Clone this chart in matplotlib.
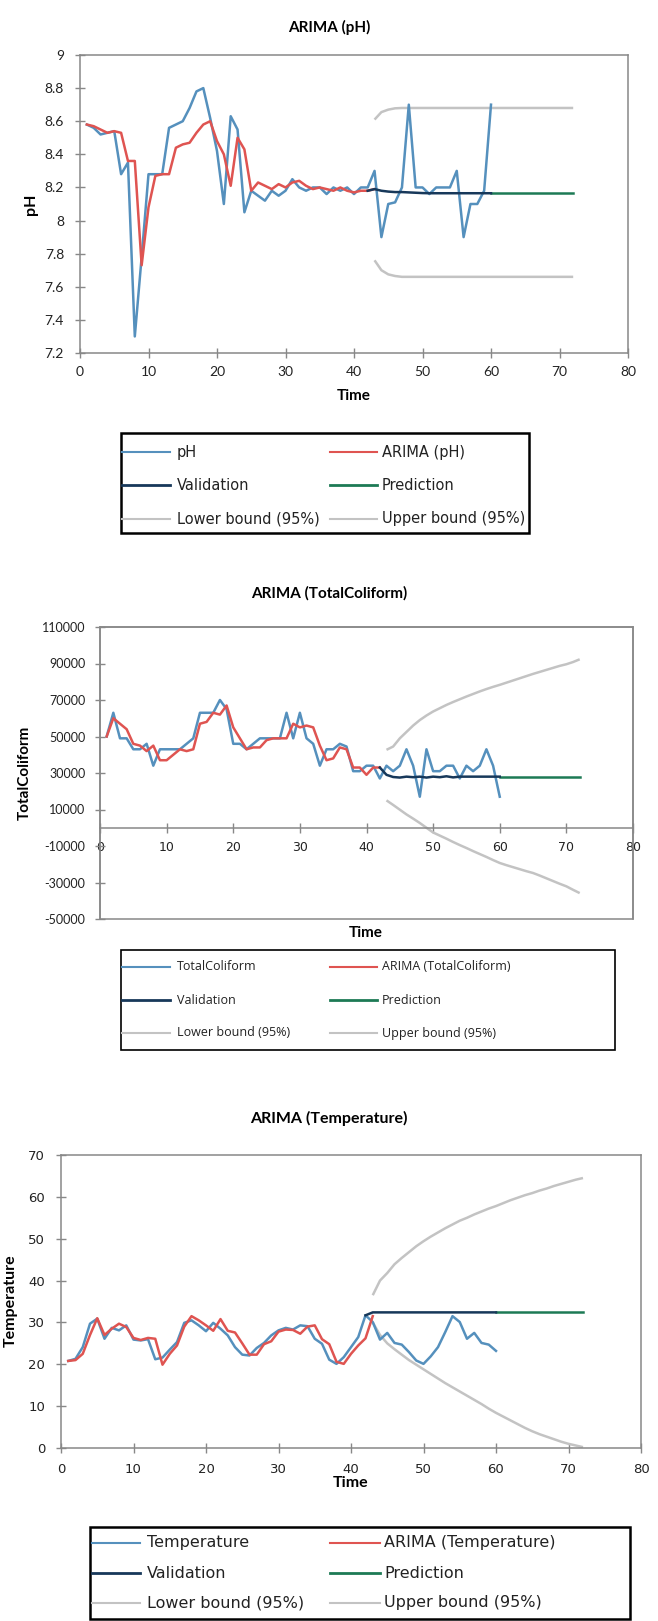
import matplotlib
matplotlib.use('Agg')
import matplotlib.pyplot as plt
from matplotlib.lines import Line2D
from matplotlib.patches import Rectangle
from matplotlib.ticker import FuncFormatter

W, H = 658, 1621
plt.rcParams['axes.unicode_minus'] = False

BLUE = '#5590bd'
RED = '#df5451'
NAVY = '#17385a'
GREEN = '#1d7a55'
GREY = '#c3c3c3'
AXC = '#888888'

# ---------------- pH ----------------
t_ph = list(range(1, 61))
ph = [8.58, 8.56, 8.52, 8.53, 8.54, 8.28, 8.35, 7.30, 7.78, 8.28,
      8.28, 8.28, 8.56, 8.58, 8.60, 8.68, 8.78, 8.80, 8.62, 8.42,
      8.10, 8.63, 8.55, 8.05, 8.18, 8.15, 8.12, 8.18, 8.15, 8.18,
      8.25, 8.20, 8.18, 8.20, 8.20, 8.16, 8.20, 8.18, 8.20, 8.16,
      8.20, 8.20, 8.30, 7.90, 8.10, 8.11, 8.20, 8.70, 8.20, 8.20,
      8.16, 8.20, 8.20, 8.20, 8.30, 7.90, 8.10, 8.10, 8.18, 8.70]
t_ph_fit = list(range(1, 44))
ph_fit = [8.58, 8.57, 8.55, 8.53, 8.54, 8.53, 8.36, 8.36, 7.73, 8.08,
          8.27, 8.28, 8.28, 8.44, 8.46, 8.47, 8.53, 8.58, 8.60, 8.48,
          8.40, 8.21, 8.50, 8.43, 8.18, 8.23, 8.21, 8.19, 8.22, 8.20,
          8.23, 8.24, 8.21, 8.19, 8.20, 8.19, 8.18, 8.20, 8.18, 8.17,
          8.18, 8.18, 8.19]
t_ph_val = list(range(42, 61))
ph_val = [8.18, 8.19, 8.18, 8.175, 8.172, 8.172, 8.17, 8.168, 8.166, 8.165,
          8.165, 8.165, 8.165, 8.165, 8.165, 8.165, 8.165, 8.165, 8.165]
t_ph_pred = list(range(60, 73))
ph_pred = [8.165] * 13
t_ph_bnd = list(range(43, 73))
ph_upper = [8.61, 8.655, 8.67, 8.678] + [8.68] * 26
ph_lower = [7.76, 7.70, 7.675, 7.665] + [7.66] * 26

# ---------------- TotalColiform ----------------
t_tc = list(range(1, 61))
tc = [50000, 63000, 49000, 49000, 43000, 43000, 46000, 34000, 43000, 43000,
      43000, 43000, 46000, 49000, 63000, 63000, 63000, 70000, 65000, 46000,
      46000, 43000, 46000, 49000, 49000, 49000, 49000, 63000, 49000, 63000,
      49000, 46000, 34000, 43000, 43000, 46000, 44500, 31000, 31000, 34000,
      34000, 27000, 34000, 31000, 34000, 43000, 34000, 17000, 43000, 31000,
      31000, 34000, 34000, 27000, 34000, 31000, 34000, 43000, 34000, 17000]
t_tc_fit = list(range(1, 43))
tc_fit = [50000, 60000, 57000, 54000, 46000, 45000, 42000, 45000, 37000, 37000,
          40000, 43000, 42000, 43000, 57000, 58000, 63000, 62000, 67000, 55000,
          49000, 43000, 44000, 44000, 48000, 49000, 49000, 49000, 57000, 55000,
          56000, 55000, 45000, 37000, 38000, 44000, 43000, 33000, 33000, 29000,
          33000, 33000]
t_tc_val = list(range(42, 61))
tc_val = [33000, 29000, 27800, 27500, 28000, 27700, 28000, 27500, 28000, 27700,
          28200, 27600, 28000, 28000, 28000, 28000, 28000, 28000, 28000]
t_tc_pred = list(range(60, 73))
tc_pred = [28000] * 13
t_tc_bnd = list(range(43, 73))
tc_upper = [42700, 44500, 49000, 52500, 56000, 59000, 61500, 63700, 65500, 67300,
            68900, 70400, 71900, 73300, 74700, 76000, 77200, 78300, 79500, 80700,
            81900, 83100, 84300, 85400, 86500, 87600, 88700, 89600, 90800, 92300]
tc_lower = [15000, 12500, 9900, 7300, 5000, 2600, 0, -2600, -4300, -6000,
            -7800, -9500, -11100, -12800, -14400, -16000, -17700, -19300, -20500, -21600,
            -22700, -23800, -24800, -26200, -27700, -29200, -30700, -32100, -34000, -35800]

# ---------------- Temperature ----------------
t_tp = list(range(1, 61))
tp = [20.8, 21.3, 24.1, 29.7, 30.9, 26.1, 28.7, 28.1, 29.3, 25.9,
      25.7, 26.0, 21.2, 21.6, 23.5, 25.3, 29.9, 30.5, 29.3, 27.9,
      29.9, 28.5, 26.9, 24.1, 22.3, 22.1, 23.9, 25.1, 26.9, 28.1,
      28.7, 28.3, 29.3, 29.1, 26.1, 24.9, 21.1, 20.1, 21.7, 24.1,
      26.5, 31.7, 30.1, 25.9, 27.5, 25.1, 24.7, 22.9, 20.9, 20.1,
      21.9, 24.1, 27.7, 31.5, 30.1, 26.1, 27.5, 25.1, 24.7, 23.2]
t_tp_fit = list(range(1, 44))
tp_fit = [20.8, 21.0, 22.5, 27.0, 31.0, 27.0, 28.5, 29.7, 28.9, 26.3,
          25.8, 26.3, 26.1, 19.9, 22.5, 24.5, 29.0, 31.5, 30.5, 29.3,
          28.0, 30.8, 28.0, 27.6, 25.0, 22.3, 22.3, 24.8, 25.5, 27.8,
          28.3, 28.2, 27.3, 29.0, 29.3, 26.0, 24.8, 20.6, 20.1, 22.5,
          24.5, 26.2, 31.5]
t_tp_val = list(range(42, 61))
tp_val = [31.7] + [32.4] * 18
t_tp_pred = list(range(60, 73))
tp_pred = [32.4] * 13
t_tp_bnd = list(range(43, 73))
tp_upper = [36.5, 40.0, 41.8, 43.9, 45.4, 46.8, 48.2, 49.4, 50.5, 51.5,
            52.5, 53.4, 54.3, 55.0, 55.8, 56.5, 57.2, 57.8, 58.5, 59.2,
            59.8, 60.4, 60.9, 61.5, 62.0, 62.6, 63.1, 63.6, 64.1, 64.5]
tp_lower = [30.0, 27.0, 25.0, 23.6, 22.3, 21.0, 19.9, 18.8, 17.7, 16.6,
            15.5, 14.5, 13.5, 12.5, 11.5, 10.5, 9.4, 8.4, 7.5, 6.6,
            5.7, 4.8, 4.0, 3.3, 2.7, 2.1, 1.5, 1.0, 0.6, 0.2]


fig = plt.figure(figsize=(W / 100, H / 100), dpi=100)
fig.patch.set_facecolor('white')


def fx(x):
    return x / W


def fy(y):
    return 1 - y / H


def add_panel(box):
    l, t, r, b = box
    return fig.add_axes([fx(l), fy(b), (r - l) / W, (b - t) / H])


def style(ax, yticks, ylim, fmt, font, fs, xpad, ypad):
    ax.set_xlim(0, 80)
    ax.set_xticks(range(0, 81, 10))
    ax.set_ylim(*ylim)
    ax.set_yticks(yticks)
    ax.yaxis.set_major_formatter(FuncFormatter(fmt))
    for s in ax.spines.values():
        s.set_color(AXC)
        s.set_linewidth(1.1)
    ax.tick_params(direction='inout', length=7, width=1.0, color=AXC,
                   labelsize=fs, labelcolor='#222222')
    ax.tick_params(axis='x', pad=xpad)
    ax.tick_params(axis='y', pad=ypad)
    for lab in ax.get_xticklabels() + ax.get_yticklabels():
        lab.set_family(font)


def draw_series(ax, t, y, t_fit, y_fit, t_val, y_val, t_pred, y_pred, t_b, lo, up):
    ax.plot(t_b, lo, color=GREY, lw=1.8, solid_capstyle='butt')
    ax.plot(t_b, up, color=GREY, lw=1.8, solid_capstyle='butt')
    ax.plot(t, y, color=BLUE, lw=1.8)
    ax.plot(t_fit, y_fit, color=RED, lw=1.8)
    ax.plot(t_pred, y_pred, color=GREEN, lw=1.8)
    ax.plot(t_val, y_val, color=NAVY, lw=1.8)


def legend(box, rows, cols, labels, colors, fs, family, lw_box):
    l, t, r, b = box
    rect = Rectangle((fx(l), fy(b)), (r - l) / W, (b - t) / H,
                     transform=fig.transFigure, fill=False,
                     edgecolor='black', lw=lw_box)
    fig.patches.append(rect)
    for i, (lab, col) in enumerate(zip(labels, colors)):
        yy = rows[i // 2]
        x0, x1, xt = cols[i % 2]
        lw = 2.0 if col in (NAVY, GREEN) else 1.5
        fig.lines.append(Line2D([fx(x0), fx(x1)], [fy(yy), fy(yy)],
                                transform=fig.transFigure, color=col, lw=lw))
        txt = fig.text(fx(xt), fy(yy), lab, va='center', ha='left',
                       fontsize=fs, family=family, color='#222222')
        txt.set_clip_path(rect)


def g(v, pos):
    return '%g' % v


leg_colors = [BLUE, RED, NAVY, GREEN, GREY, GREY]

# ---- panel 1
ax1 = add_panel((80, 55, 628, 353))
draw_series(ax1, t_ph, ph, t_ph_fit, ph_fit, t_ph_val, ph_val,
            t_ph_pred, ph_pred, t_ph_bnd, ph_lower, ph_upper)
style(ax1, [7.2 + 0.2 * i for i in range(10)], (7.2, 9.0), g, 'Lato', 10, 6, 8)
fig.text(fx(329), fy(27), 'ARIMA (pH)', ha='center', va='center',
         fontsize=11, family='Lato', weight='bold')
fig.text(fx(354), fy(396), 'Time', ha='center', va='center',
         fontsize=11, family='Lato', weight='bold')
fig.text(fx(31), fy(204), 'pH', ha='center', va='center', rotation=90,
         fontsize=11.5, family='Lato', weight='bold')
legend((121, 433, 529, 533), [452, 485, 519],
       [(122, 170, 177), (330, 377, 382)],
       ['pH', 'ARIMA (pH)', 'Validation', 'Prediction',
        'Lower bound (95%)', 'Upper bound (95%)'],
       leg_colors, 10.5, 'DejaVu Sans', 1.8)

# ---- panel 2
ax2 = add_panel((100, 627, 633, 919))
draw_series(ax2, t_tc, tc, t_tc_fit, tc_fit, t_tc_val, tc_val,
            t_tc_pred, tc_pred, t_tc_bnd, tc_lower, tc_upper)
style(ax2, list(range(-50000, 110001, 20000)), (-50000, 110000), g,
      'Lato', 9, 6, 7)
ax2.spines['bottom'].set_position(('data', 0))
ax2.add_patch(Rectangle((0, 0), 1, 1, transform=ax2.transAxes, fill=False,
                        edgecolor=AXC, lw=1.1, clip_on=False))
fig.text(fx(329), fy(593), 'ARIMA (TotalColiform)', ha='center', va='center',
         fontsize=11, family='Lato', weight='bold')
fig.text(fx(366), fy(933), 'Time', ha='center', va='center',
         fontsize=11, family='Lato', weight='bold')
fig.text(fx(25), fy(773), 'TotalColiform', ha='center', va='center',
         rotation=90, fontsize=11, family='Lato', weight='bold')
legend((121, 950, 615, 1050), [967, 1000, 1033],
       [(122, 170, 177), (330, 377, 382)],
       ['TotalColiform', 'ARIMA (TotalColiform)', 'Validation', 'Prediction',
        'Lower bound (95%)', 'Upper bound (95%)'],
       leg_colors, 9, 'Open Sans', 1.2)

# ---- panel 3
ax3 = add_panel((61, 1155, 641, 1448))
draw_series(ax3, t_tp, tp, t_tp_fit, tp_fit, t_tp_val, tp_val,
            t_tp_pred, tp_pred, t_tp_bnd, tp_lower, tp_upper)
style(ax3, list(range(0, 71, 10)), (0, 70), g, 'DejaVu Sans', 9.5, 7, 8)
fig.text(fx(329), fy(1118), 'ARIMA (Temperature)', ha='center', va='center',
         fontsize=11.5, family='Lato', weight='bold')
fig.text(fx(351), fy(1483), 'Time', ha='center', va='center',
         fontsize=11.5, family='Lato', weight='bold')
fig.text(fx(11), fy(1301), 'Temperature', ha='center', va='center',
         rotation=90, fontsize=11.5, family='Lato', weight='bold')
legend((90, 1527, 630, 1619), [1543, 1573, 1603],
       [(92, 140, 147), (330, 380, 384)],
       ['Temperature', 'ARIMA (Temperature)', 'Validation', 'Prediction',
        'Lower bound (95%)', 'Upper bound (95%)'],
       leg_colors, 11.5, 'DejaVu Sans', 1.8)

fig.savefig('out.png', dpi=100)
